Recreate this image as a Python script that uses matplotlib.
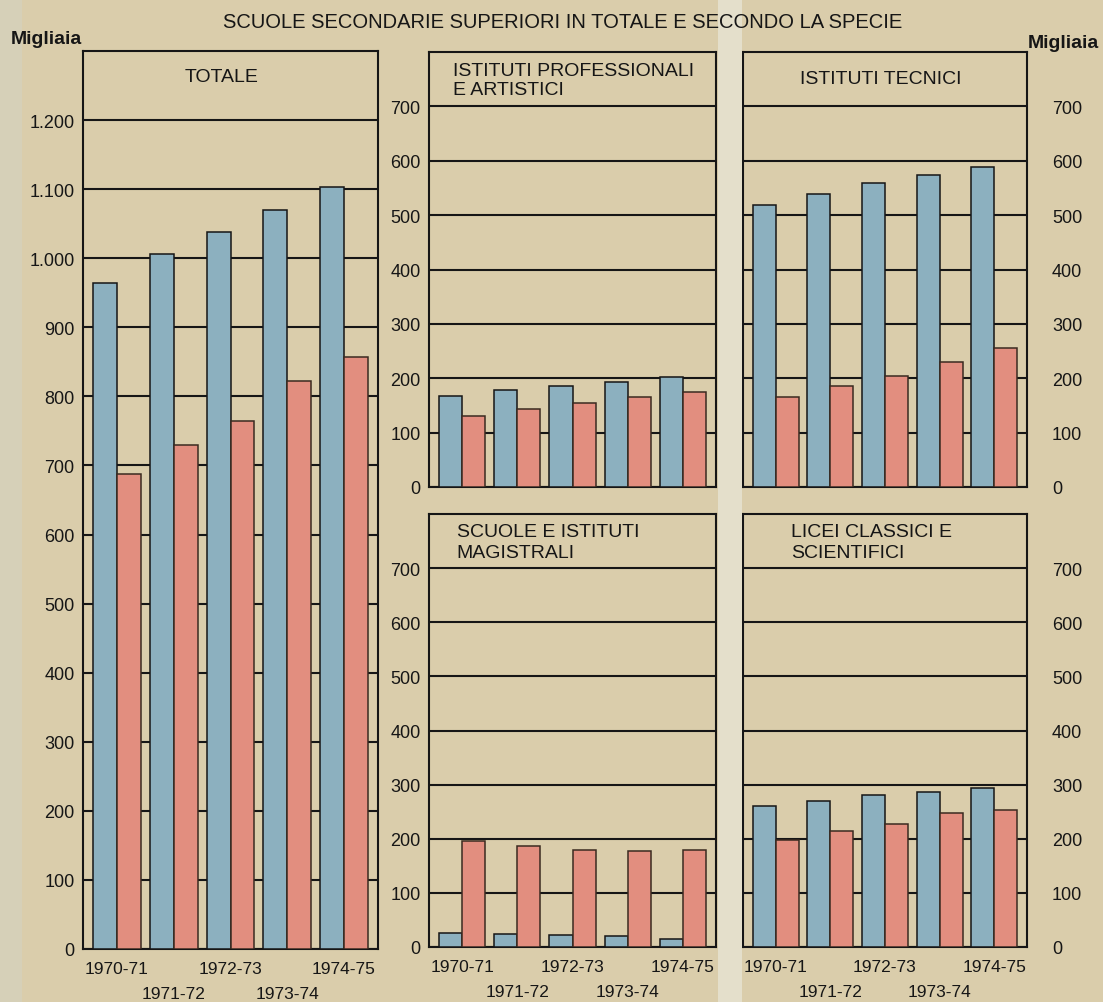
import matplotlib
matplotlib.use("Agg")
import matplotlib.pyplot as plt
from matplotlib.patches import Rectangle

plt.rcParams['font.family'] = ['Liberation Sans', 'DejaVu Sans']

# dati in migliaia
anni = ["1970-71", "1971-72", "1972-73", "1973-74", "1974-75"]
totale_blu = [964, 1006, 1038, 1070, 1103]
totale_rosso = [688, 729, 764, 822, 857]
prof_blu = [168, 179, 185, 194, 203]
prof_rosso = [130, 143, 155, 165, 174]
tecnici_blu = [519, 538, 559, 574, 589]
tecnici_rosso = [165, 185, 205, 229, 255]
magistrali_blu = [25, 24, 23, 20, 14]
magistrali_rosso = [195, 187, 179, 177, 179]
licei_blu = [260, 270, 280, 286, 294]
licei_rosso = [197, 215, 227, 247, 253]

tick_totale = [0, 100, 200, 300, 400, 500, 600, 700, 800, 900, 1000, 1100, 1200]
tick_specie = [0, 100, 200, 300, 400, 500, 600, 700]

BLU = "#8cb0bf"
ROSSO = "#e28e7f"
CARTA = "#dacdab"
INK = "#161616"
W, H = 1103, 1003


def box(x0, y0, x1, y1):
    # pixel box -> figure fraction
    return [x0 / W, (H - y1) / H, (x1 - x0) / W, (y1 - y0) / H]


def tick_text(v):
    return f"{v:,}".replace(",", ".")


def panel(rect, blu, rosso, ymax, ticks, right=False, xlabels=False):
    ax = fig.add_axes(rect)
    ax.set_facecolor(CARTA)
    x = list(range(len(anni)))
    w = 0.42
    ax.bar([i - w / 2 for i in x], blu, w, color=BLU, edgecolor=INK, linewidth=1.1, zorder=3)
    ax.bar([i + w / 2 for i in x], rosso, w, color=ROSSO, edgecolor="#3a2a20", linewidth=1.1, zorder=3)
    ax.set_xlim(-0.6, 4.6)
    ax.set_ylim(0, ymax)
    ax.set_yticks(ticks)
    ax.set_yticklabels([tick_text(t) for t in ticks], fontsize=13, color=INK)
    ax.set_axisbelow(True)
    ax.yaxis.grid(True, color=INK, linewidth=1.5)
    for s in ax.spines.values():
        s.set_color(INK)
        s.set_linewidth(1.5)
    if right:
        ax.yaxis.tick_right()
        ax.tick_params(axis="y", length=0, pad=18)
        for lab in ax.get_yticklabels():
            lab.set_horizontalalignment("left")
    else:
        ax.tick_params(axis="y", length=0, pad=6)
    # anni alterni su due righe
    ax.set_xticks(x[::2])
    ax.set_xticks(x[1::2], minor=True)
    if xlabels:
        ax.set_xticklabels(anni[::2], fontsize=12.5, color=INK)
        ax.set_xticklabels(anni[1::2], minor=True, fontsize=12.5, color=INK)
        ax.tick_params(axis="x", which="major", length=0, pad=9)
        ax.tick_params(axis="x", which="minor", length=0, pad=27)
    else:
        ax.set_xticklabels([])
        ax.set_xticklabels([], minor=True)
        ax.tick_params(axis="x", which="both", length=0)
    return ax


fig = plt.figure(figsize=(W / 100, H / 100), dpi=100)
fig.patch.set_facecolor(CARTA)
# striscia chiara tra le colonne e bordo sinistro della scansione
fig.patches.append(Rectangle((718 / W, 0), 24 / W, 1, transform=fig.transFigure,
                             facecolor="#e4dfcb", edgecolor="none", zorder=0))
fig.patches.append(Rectangle((0, 0), 22 / W, 1, transform=fig.transFigure,
                             facecolor="#d6d0b8", edgecolor="none", zorder=0))

ax_tot = panel(box(83, 52, 378, 950), totale_blu, totale_rosso, 1300, tick_totale, xlabels=True)
ax_prof = panel(box(429, 53, 716, 488), prof_blu, prof_rosso, 800, tick_specie)
ax_tec = panel(box(743, 53, 1027, 488), tecnici_blu, tecnici_rosso, 800, tick_specie, right=True)
ax_mag = panel(box(429, 515, 716, 948), magistrali_blu, magistrali_rosso, 800, tick_specie, xlabels=True)
ax_lic = panel(box(743, 515, 1027, 948), licei_blu, licei_rosso, 800, tick_specie, right=True, xlabels=True)

fig.text(563 / W, 1 - 22 / H, "SCUOLE SECONDARIE SUPERIORI IN TOTALE E SECONDO LA SPECIE",
         ha="center", va="center", fontsize=14.5, color=INK)
fig.text(11 / W, 1 - 40 / H, "Migliaia", ha="left", va="center", fontsize=14,
         fontweight="bold", color=INK)
fig.text(1099 / W, 1 - 43 / H, "Migliaia", ha="right", va="center", fontsize=14,
         fontweight="bold", color=INK)

titolo = dict(fontsize=14, color=INK, va="center")
ax_tot.text(0.471, 0.972, "TOTALE", transform=ax_tot.transAxes, ha="center", **titolo)
ax_prof.text(0.084, 0.936, "ISTITUTI PROFESSIONALI\nE ARTISTICI", transform=ax_prof.transAxes,
             ha="left", linespacing=1.15, **titolo)
ax_tec.text(0.486, 0.94, "ISTITUTI TECNICI", transform=ax_tec.transAxes, ha="center", **titolo)
ax_mag.text(0.097, 0.936, "SCUOLE E ISTITUTI\nMAGISTRALI", transform=ax_mag.transAxes,
            ha="left", linespacing=1.3, **titolo)
ax_lic.text(0.169, 0.936, "LICEI CLASSICI E\nSCIENTIFICI", transform=ax_lic.transAxes,
            ha="left", linespacing=1.3, **titolo)

fig.savefig("out.png", dpi=100, facecolor=fig.get_facecolor())
